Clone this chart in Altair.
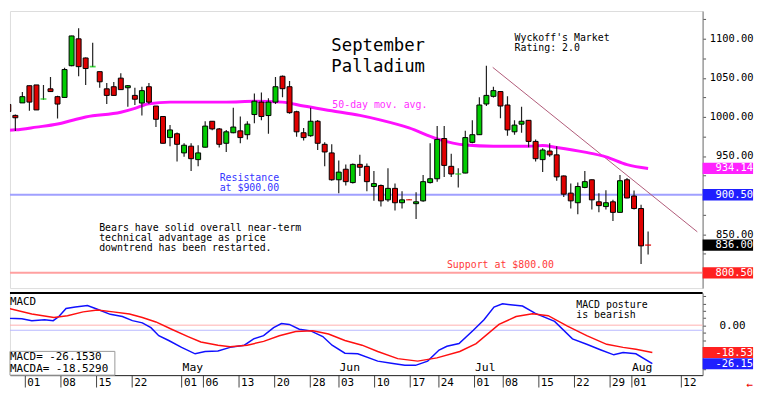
import altair as alt
import pandas as pd
import numpy as np

# ---------------- data ----------------
dates = ["Mar 26", "Mar 27", "Mar 28",
         "Apr 01", "Apr 02", "Apr 03", "Apr 04", "Apr 05", "Apr 08", "Apr 09", "Apr 10", "Apr 11", "Apr 12",
         "Apr 15", "Apr 16", "Apr 17", "Apr 18", "Apr 19", "Apr 22", "Apr 23", "Apr 24", "Apr 25", "Apr 26",
         "Apr 29", "Apr 30",
         "May 01", "May 02", "May 03", "May 06", "May 07", "May 08", "May 09", "May 10", "May 13", "May 14",
         "May 15", "May 16", "May 17", "May 20", "May 21", "May 22", "May 23", "May 24", "May 28", "May 29",
         "May 30", "May 31",
         "Jun 03", "Jun 04", "Jun 05", "Jun 06", "Jun 07", "Jun 10", "Jun 11", "Jun 12", "Jun 13", "Jun 14",
         "Jun 17", "Jun 18", "Jun 20", "Jun 21", "Jun 24", "Jun 25", "Jun 26", "Jun 27", "Jun 28",
         "Jul 01", "Jul 02", "Jul 03", "Jul 05", "Jul 08", "Jul 09", "Jul 10", "Jul 11", "Jul 12", "Jul 15",
         "Jul 16", "Jul 17", "Jul 18", "Jul 19", "Jul 22", "Jul 23", "Jul 24", "Jul 25", "Jul 26", "Jul 29",
         "Jul 30", "Jul 31",
         "Aug 01", "Aug 02", "Aug 05", "Aug 06"]
first_index = -3

opens = [1016, 1002, 1018,
         1040, 1041, 1022.8, 1036, 1026, 1025, 1065.6, 1100, 1075.5, 1064.2, 1058, 1036, 1038.7, 1049.7,
         1037.4, 1027.6, 1017.8, 1038.7, 1014, 1000.6, 973.6, 978.5,
         954, 962.6, 945.4, 961.3, 994.5, 984.7, 966.3, 979.8, 982.2, 977.3, 1003.1, 1019, 1001.8, 1019,
         1052.1, 1038.7, 1006.7, 979.8, 976, 994.5, 965, 954,
         919.6, 933.1, 916, 939.3, 936.8, 911, 912.3, 893.9, 908.6, 890.2, 894.2, 889, 892.6, 916, 920.9,
         972.4, 936.8, 926.8, 928.2,
         967.5, 977.3, 1016.6, 1026.4, 1032.5, 1015.3, 981, 990.8, 995.7, 968.7, 945.4, 956.4, 951.5, 924.5,
         902.5, 890.2, 909.8, 919.6, 891.4, 885.3, 891.4, 877.9,
         919.6, 898.8, 882.8, 836.2]
highs = [1018, 1003, 1032,
         1040, 1041, 1041, 1051, 1027, 1063, 1104, 1113.5, 1076, 1095, 1058, 1043.6, 1044.8, 1055.8, 1041,
         1037.4, 1038.7, 1043.6, 1014, 1001, 989.6, 980,
         966.3, 966.3, 963.8, 994.5, 994.5, 986, 983.4, 1011.7, 1000.6, 994.5, 1030, 1031.3, 1024, 1051,
         1053, 1046, 1008, 986, 1011.7, 996, 967.5, 965,
         944.2, 939.3, 940.5, 951.5, 940.5, 930.7, 913.5, 934.4, 914.7, 905, 894.6, 903.7, 925.8, 966.3,
         988.3, 988.3, 952.8, 934.4, 982.2,
         995.7, 1025.2, 1065.6, 1038.7, 1033, 1026.4, 995.7, 1013, 996, 971, 960, 966.3, 962.6, 925,
         914.7, 916, 930.7, 920, 902.5, 906.1, 894, 925.8,
         922, 906, 887.7, 853.4]
lows = [1004, 982, 1018,
        1008, 1009, 1022, 1032, 998, 1025, 1065, 1052, 1041, 1064, 1037.4, 1016.6, 1027, 1035, 1013,
        1015.3, 1001.8, 1016.6, 987, 966, 962.6, 943,
        949, 930.7, 936.8, 961, 983, 961, 955.2, 979, 966.3, 971.2, 992, 995.7, 978.5, 1016.6, 1025.2,
        1004, 974.8, 970, 974.8, 957.7, 936.8, 918.4,
        902.5, 912.3, 914.7, 924.5, 905, 892.6, 885.3, 891.4, 880.4, 882.8, 893.6, 869.3, 891.4, 914.7,
        917.2, 923.3, 923.3, 909.8, 928,
        966.3, 977, 1014, 1025, 998.2, 976, 977.3, 979.8, 961.3, 943, 929.4, 949, 918.4, 897.5, 882.8,
        875.5, 908.6, 881.6, 877.9, 881.6, 866.9, 877.9,
        896, 881.6, 811.7, 824]
closes = [1007, 999, 1026,
          1019, 1009, 1023, 1032.5, 1016.5, 1060.7, 1103.7, 1064.4, 1062, 1064.4, 1045, 1027.6, 1027.6,
          1035, 1040, 1022.7, 1033.7, 1019, 997, 966.3, 983.4, 965,
          963.8, 946.6, 954, 988.3, 984.7, 965, 981, 987.1, 973.6, 990.8, 1020.2, 1000.6, 1019, 1038.7,
          1036.2, 1005.5, 981, 973.6, 994.5, 966.3, 955.2, 919.6,
          929.4, 917.2, 939.3, 935.6, 917.2, 914.7, 892.6, 908.6, 890.2, 893.9, 894, 891.4, 917.2, 920.9,
          971.2, 938, 927, 927, 973.6,
          977.3, 1015.3, 1027.6, 1033.7, 1014, 983.4, 989.6, 994.5, 968.7, 946.6, 957.7, 951.5, 923.3,
          901.2, 892.6, 911, 917.2, 893.9, 886.5, 890.2, 877.9, 918.4,
          896.3, 882.8, 835, 836]

ma_index = [-3, -2, 1, 4, 6, 8, 13, 15, 17, 20, 28, 32, 36, 39, 43, 47, 50, 54, 58, 62,
            66, 71, 73, 75, 79, 82, 85, 88]
ma_value = [983, 983.5, 987, 991, 995.5, 1000, 1006, 1011, 1017, 1019, 1019, 1020, 1019, 1014, 1008,
            1002, 996, 986, 972, 964, 962.5, 962.5, 963.5, 961, 955, 949, 939, 934.14]

macd_index = [-3.2, -2.2, -0.4, 1.0, 2.8, 4.0, 4.8, 5.8, 7.1, 8.8, 10.2, 12.0, 13.7, 15.1, 16.5, 17.7,
              18.8, 20.2, 22.0, 23.9, 25.3, 27.1, 28.8, 30.8, 32.1, 33.5, 34.9, 36.0, 37.1, 38.5, 40.1,
              41.8, 43.1, 44.9, 46.7, 49.5, 51.4, 53.3, 54.8, 56.5, 58.1, 59.2, 60.9, 62.9, 64.4, 65.8,
              67.0, 69.8, 71.6, 74.3, 76.8, 78.8, 80.8, 82.6, 83.9, 85.7, 88.0]
macd_value = [8.3, 5.0, 4.6, 3.3, 3.9, 3.3, 6.1, 11.6, 12.6, 13.7, 11.1, 7.6, 6.1, 3.3, 1.8, -1.5,
              -7.0, -10.3, -15.0, -19.4, -17.8, -17.5, -15.0, -13.5, -9.2, -7.0, -1.5, 1.3, 0.7, -2.6,
              -3.7, -7.6, -13.5, -19.0, -19.4, -24.4, -25.9, -27.3, -27.3, -24.4, -16.8, -14.2, -12.4,
              -3.3, 3.9, 12.6, 14.8, 13.3, 8.3, 2.8, -9.2, -12.9, -16.8, -20.1, -18.5, -19.4, -26.15]
signal_index = [-2.2, 1.0, 4.1, 6.0, 8.2, 10.2, 12.4, 14.7, 16.5, 18.4, 20.6, 22.9, 24.7, 27.1, 28.8,
                31.2, 33.5, 35.7, 38.0, 40.4, 42.6, 44.9, 47.3, 49.5, 52.3, 55.1, 57.8, 61.0, 63.3,
                66.5, 68.9, 71.2, 73.4, 76.1, 78.8, 81.6, 83.9, 85.7, 88.0]
signal_value = [11.6, 7.8, 5.4, 6.7, 9.3, 10.5, 9.3, 7.8, 5.4, 2.4, -2.6, -7.6, -11.3, -13.5, -14.6,
                -13.5, -10.9, -7.0, -4.1, -3.7, -5.9, -10.3, -13.5, -17.8, -22.7, -24.4, -22.2, -17.8,
                -12.4, 0.7, 6.1, 8.0, 6.7, -0.5, -7.0, -12.9, -15.0, -16.3, -18.53]

tick_index = [0, 5, 10, 15, 22, 25, 30, 35, 40, 44, 49, 54, 58, 63, 67, 72, 77, 82, 85, 92]
tick_labels = ["01", "08", "15", "22", "01", "06", "13", "20", "28", "03", "10", "17", "24",
               "01", "08", "15", "22", "29", "01", "12"]
month_index = [22, 44, 63, 85]
month_labels = ["May", "Jun", "Jul", "Aug"]

trend_index = [65.9, 95.0]
trend_price = [1063.5, 853.0]
resistance = 900.5
support = 800.5

price_boxes = [934.14, 900.50, 836.00, 800.50]
price_box_colors = ["#ff22ff", "#1f1fff", "#000000", "#ff2020"]
macd_boxes = [-18.53, -26.15]
macd_box_colors = ["#ff2020", "#1f1fff"]

# ---------------- layout ----------------
FONT = "DejaVu Sans Mono"
KY = 0.967          # vertical fit factor (page must not overflow the 768x398 window)
KX = 700 / 707      # horizontal fit factor
W = 700
H1 = 280
H2 = 83
RIGHT = 751

xs = alt.Scale(domain=[-2.06, 95.05], nice=False, zero=False)
ys = alt.Scale(domain=[781.0, 1135.6], nice=False, zero=False)
ms = alt.Scale(domain=[-34.0, 22.2], nice=False, zero=False)

common_axis = dict(labelFont=FONT, labelColor="black", grid=False, title=None,
                   labelOverlap=False, labelBound=False, labelFlush=False)

price_axis = alt.Axis(
    orient="right", values=list(range(800, 1126, 25)),
    labelExpr="(datum.value % 50 == 0 && datum.value != 900 && datum.value != 800) ? format(datum.value, '.2f') : ''",
    labelFontSize=10.5, labelAlign="right", labelBaseline="middle",
    labelPadding=RIGHT - W - 3, tickSize=3, tickColor="#555555", domainColor="#777777", **common_axis,
)
labels_js = "[" + ",".join(f"'{l}'" for l in tick_labels) + "]"
idx_js = "[" + ",".join(str(i) for i in tick_index) + "]"
x_axis = alt.Axis(
    orient="bottom", values=tick_index, labelExpr=f"{labels_js}[indexof({idx_js}, datum.value)]",
    labelFontSize=11, labelAlign="left", labelBaseline="middle",
    labelPadding=-5, labelOffset=2, tickSize=12, tickColor="#444444", domainColor="#222222",
    **common_axis,
)
macd_axis = alt.Axis(
    orient="right", values=list(range(-30, 21, 5)),
    labelExpr="datum.value == 0 ? '0.00' : ''",
    labelFontSize=11, labelAlign="right", labelBaseline="middle",
    labelPadding=RIGHT - W - 3 - 8, tickSize=3, tickColor="#555555", domainColor="#777777", **common_axis,
)


def XP(f):
    return alt.X(f, type="quantitative", scale=xs, axis=None)


def XM(f):
    return alt.X(f, type="quantitative", scale=xs, axis=x_axis)


def YP(f):
    return alt.Y(f, type="quantitative", scale=ys, axis=price_axis)


def YM(f):
    return alt.Y(f, type="quantitative", scale=ms, axis=macd_axis)


def txt(s, x, y, size, color, align="left"):
    return alt.Chart(pd.DataFrame({"t": [s]})).mark_text(
        align=align, baseline="middle", font=FONT, fontSize=size, color=color
    ).encode(x=alt.value(x * KX), y=alt.value(y * KY), text="t:N")


candles = pd.DataFrame({
    "i": list(range(first_index, first_index + len(dates))),
    "date": dates, "open": opens, "high": highs, "low": lows, "close": closes,
})
candles["col"] = np.where(candles["close"] >= candles["open"], "#00cc00", "#e00000")
doji_mask = (candles["close"] - candles["open"]).abs() < 0.5
bodies_df = candles[~doji_mask]
doji_df = candles[doji_mask]

wicks = alt.Chart(candles).mark_rule(color="#222222", strokeWidth=1.2, clip=True).encode(
    x=XP("i"), y=YP("low"), y2="high"
)
bodies = alt.Chart(bodies_df).mark_bar(size=5, stroke="black", strokeWidth=1, clip=True).encode(
    x=XP("i"), y=YP("open"), y2="close", color=alt.Color("col:N", scale=None)
)
dojis = alt.Chart(doji_df).mark_tick(orient="horizontal", size=6, thickness=1.6, clip=True).encode(
    x=XP("i"), y=YP("close"), color=alt.Color("col:N", scale=None)
)
ma_line = alt.Chart(pd.DataFrame({"i": ma_index, "v": ma_value})).mark_line(
    color="#ff10ff", strokeWidth=3, interpolate="monotone", clip=True
).encode(x=XP("i"), y=YP("v"))
trend = alt.Chart(pd.DataFrame({"i": trend_index, "v": trend_price})).mark_line(
    color="#b05a78", strokeWidth=1, clip=True
).encode(x=XP("i"), y=YP("v"))
res_rule = alt.Chart(pd.DataFrame({"v": [resistance]})).mark_rule(color="#a0a0ff", strokeWidth=2).encode(
    y=YP("v")
)
sup_rule = alt.Chart(pd.DataFrame({"v": [support]})).mark_rule(color="#ffa0a0", strokeWidth=2).encode(
    y=YP("v")
)
pb = pd.DataFrame({"v": price_boxes, "c": price_box_colors,
                   "t": [f"{v:.2f}" for v in price_boxes]})
pbox = alt.Chart(pb).mark_rule(strokeWidth=11.5, clip=False).encode(
    x=alt.value(W), x2=alt.value(RIGHT), y=YP("v"), color=alt.Color("c:N", scale=None)
)
pbox_t = alt.Chart(pb).mark_text(align="right", baseline="middle", font=FONT, fontSize=10.5,
                                 color="white", clip=False).encode(
    x=alt.value(RIGHT), y=YP("v"), text="t:N"
)

magenta = "#ff30ff"
blue = "#3535ff"
red = "#ff3a3a"

price = alt.layer(
    res_rule, sup_rule, trend, ma_line, wicks, bodies, dojis,
    txt("September", 328, 37, 17.5, "black"),
    txt("Palladium", 328, 58.5, 17.5, "black"),
    txt("Wyckoff's Market", 515, 28, 10, "black"),
    txt("Rating: 2.0", 515, 39, 10, "black"),
    txt("50-day mov. avg.", 329, 98, 10, magenta),
    txt("Resistance", 214, 175, 10, blue),
    txt("at $900.00", 214, 185.5, 10, blue),
    txt("Bears have solid overall near-term", 91, 227, 10, "black"),
    txt("technical advantage as price", 91, 237.5, 10, "black"),
    txt("downtrend has been restarted.", 91, 248, 10, "black"),
    txt("Support at $800.00", 446, 265, 10, red),
    pbox, pbox_t,
).properties(width=W, height=H1)

# ---------------- MACD panel ----------------
macd_line = alt.Chart(pd.DataFrame({"i": macd_index, "v": macd_value})).mark_line(
    color="#1010ff", strokeWidth=1.5, clip=True
).encode(x=XM("i"), y=YM("v"))
sig_line = alt.Chart(pd.DataFrame({"i": signal_index, "v": signal_value})).mark_line(
    color="#ff1010", strokeWidth=1.5, clip=True
).encode(x=XM("i"), y=YM("v"))
zero_rule = alt.Chart(pd.DataFrame({"v": [0.2]})).mark_rule(color="#ffb0b0", strokeWidth=1).encode(y=YM("v"))
blue_rule = alt.Chart(pd.DataFrame({"v": [-3.3]})).mark_rule(color="#b8b8ff", strokeWidth=1).encode(y=YM("v"))
top_rule = alt.Chart(pd.DataFrame({"v": [0]})).mark_rule(color="black", strokeWidth=2).encode(
    x=alt.value(0), x2=alt.value(W), y=alt.value(0)
)
months = alt.Chart(pd.DataFrame({"i": month_index, "t": month_labels})).mark_text(
    align="left", baseline="middle", font=FONT, fontSize=11.5, color="black", dx=1
).encode(x=XM("i"), y=alt.value(78.5 * KY), text="t:N")
mb = pd.DataFrame({"v": macd_boxes, "c": macd_box_colors, "t": [f"{v:.2f}" for v in macd_boxes]})
mbox = alt.Chart(mb).mark_rule(strokeWidth=11.2, clip=False).encode(
    x=alt.value(W), x2=alt.value(RIGHT), y=YM("v"), color=alt.Color("c:N", scale=None)
)
mbox_t = alt.Chart(mb).mark_text(align="right", baseline="middle", font=FONT, fontSize=10.5,
                                 color="white", clip=False).encode(
    x=alt.value(RIGHT), y=YM("v"), text="t:N"
)
info_box = alt.Chart(pd.DataFrame({"v": [0]})).mark_rect(fill="white", stroke="#999999", strokeWidth=1).encode(
    x=alt.value(0), x2=alt.value(106), y=alt.value(61 * KY), y2=alt.value(H2)
)

macd = alt.layer(
    zero_rule, blue_rule, macd_line, sig_line, top_rule, months,
    txt("MACD", 0, 9, 11, "black"),
    txt("MACD posture", 578, 13, 10, "black"),
    txt("is bearish", 578, 23.5, 10, "black"),
    info_box,
    txt("MACD=  -26.1530", 0, 66.5, 11, "black"),
    txt("MACDA= -18.5290", 0, 79, 11, "black"),
    mbox, mbox_t,
    txt("\u2190", RIGHT / KX, 96, 11, "#ee0000", align="right"),
).properties(width=W, height=H2)

chart = alt.vconcat(price, macd, spacing=0, padding=0).configure_view(
    stroke="#ffffff", strokeWidth=0, fill="white"
).configure(background="white")

chart.save("out.html", embed_options={"renderer": "svg", "actions": False})
